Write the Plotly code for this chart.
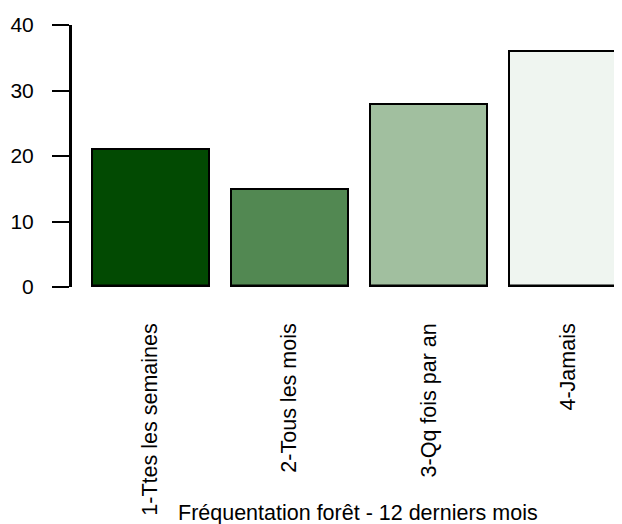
import plotly.graph_objects as go

categories = ["1-Ttes les semaines", "2-Tous les mois", "3-Qq fois par an", "4-Jamais"]
values = [21, 15, 28, 36]
colors = ["#024a02", "#528852", "#a1bf9f", "#eff5f0"]
y_ticks = [0, 10, 20, 30, 40]
x_title = "Fréquentation forêt - 12 derniers mois"

FONT = "Liberation Sans, Arial, sans-serif"
BAR_W = 0.84

fig = go.Figure()
fig.add_trace(go.Bar(
    x=list(range(len(categories))), y=values, width=BAR_W,
    marker=dict(color=colors, line=dict(color="black", width=2)),
    hoverinfo="skip",
))

# thicker bottom edge on each bar
for i in range(len(categories)):
    fig.add_shape(type="line", xref="x", yref="y",
                  x0=i - BAR_W / 2, x1=i + BAR_W / 2, y0=0, y1=0,
                  line=dict(color="black", width=5))

# page body has an 8px margin: the figure is sized to end at the window edge
fig.update_layout(
    width=614, height=516,
    margin=dict(l=64, r=0, t=17, b=237),
    paper_bgcolor="white", plot_bgcolor="white",
    showlegend=False,
    font=dict(family=FONT, size=21, color="black"),
    bargap=0,
)
fig.update_xaxes(
    range=[-0.56, 3.388],
    tickmode="array", tickvals=list(range(len(categories))), ticktext=categories,
    tickangle=-90, ticks="", showline=False, showgrid=False, zeroline=False,
    ticklabelstandoff=31, tickfont=dict(size=21.5),
)
fig.update_yaxes(
    range=[0, 40], tickvals=y_ticks,
    ticks="outside", ticklen=17, tickwidth=2, tickcolor="black",
    showline=True, linewidth=3, linecolor="black",
    showgrid=False, zeroline=False, ticklabelstandoff=14,
    tickfont=dict(size=21),
)
fig.add_annotation(
    text=x_title, xref="paper", yref="paper", x=0.52, y=-0.864,
    xanchor="center", yanchor="middle", showarrow=False,
    font=dict(size=21.5),
)

fig.write_html("out.html")
